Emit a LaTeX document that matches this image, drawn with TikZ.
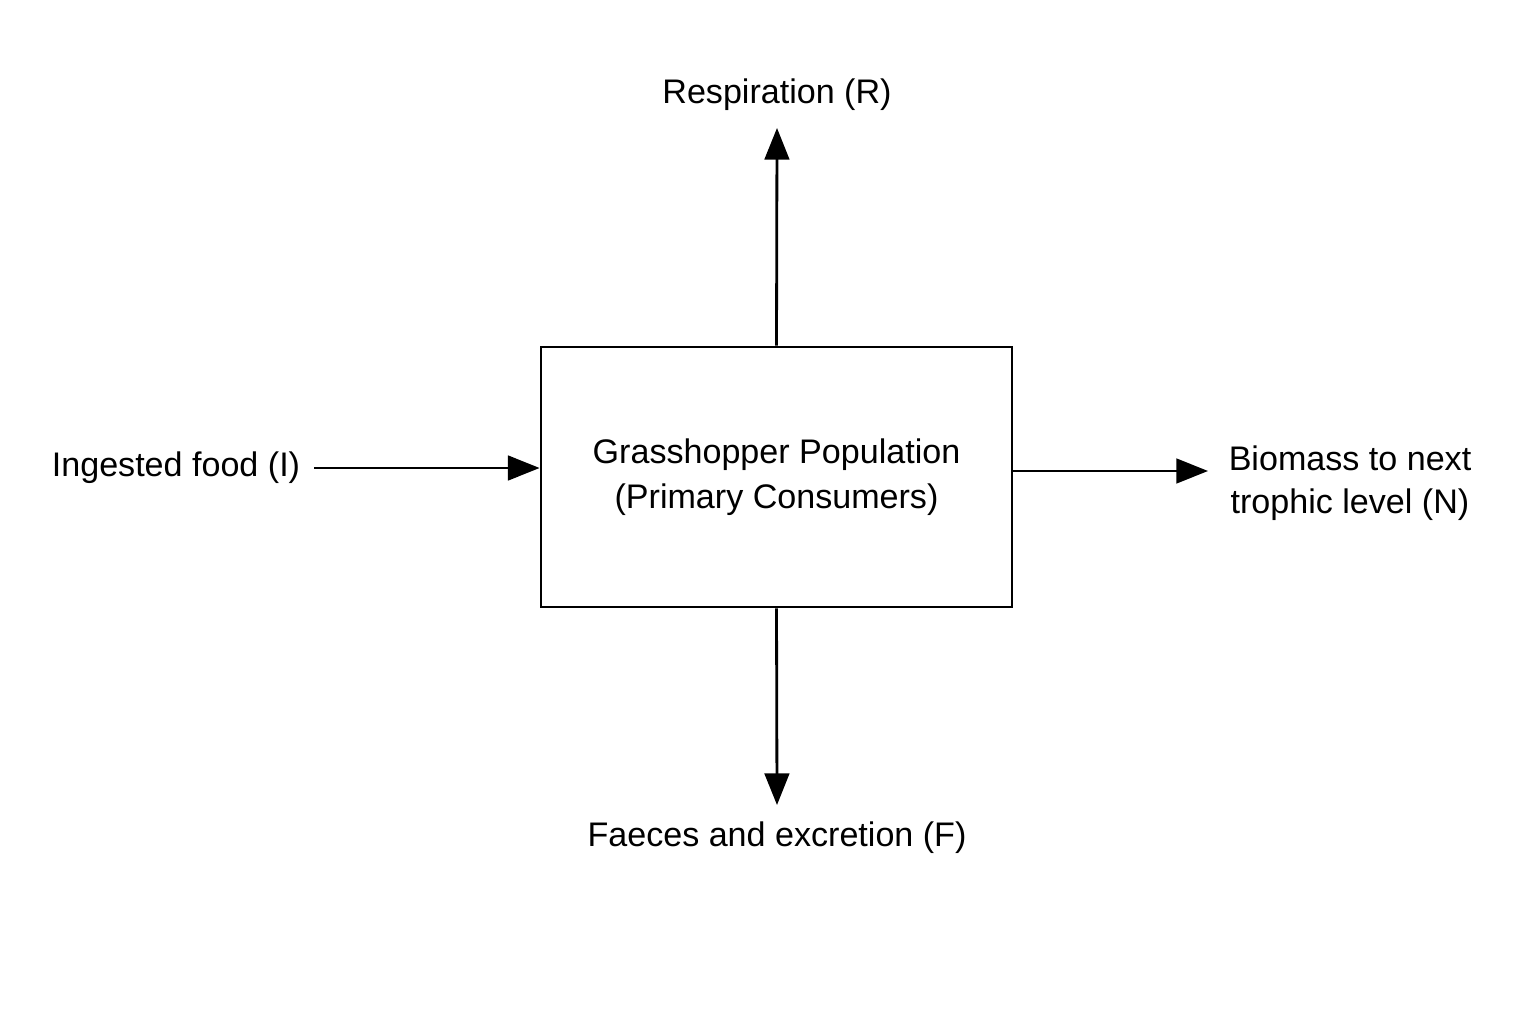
\documentclass[tikz,border=0pt]{standalone}
\usepackage{fontspec}
\setmainfont{Liberation Sans}
\usetikzlibrary{arrows.meta,positioning}

\begin{document}
\begin{tikzpicture}[
    pop/.style={
        rectangle,
        minimum width=4.71cm,
        minimum height=2.60cm,
        align=center,
        font=\fontsize{9.7}{12.8}\selectfont,
        draw,
        line width=0.8pt
    },
    label/.style={align=center, font=\fontsize{9.7}{12.2}\selectfont},
    arrow/.style={-{Triangle[length=9pt,width=7pt]},line width=0.8pt}
]
    \useasboundingbox (0,0) rectangle (15.36,10.24);

    % Population box
    \node[pop] (pop) at (7.765,5.47) {
        Grasshopper Population\\
        (Primary Consumers)
    };

    % Flow labels
    \node[label] (resp) at (7.77,9.29) {Respiration (R)};
    \node[label] (faec) at (7.77,1.86) {Faeces and excretion (F)};
    \node[label] (ing) at (1.76,5.56) {Ingested food (I)};
    \node[label] (bio) at (13.50,5.41) {Biomass to next\\trophic level (N)};

    % Arrow ends
    \coordinate (respTip) at (7.77,8.96);
    \coordinate (faecTip) at (7.77,2.19);
    \coordinate (ingStart) at (3.14,5.56);
    \coordinate (bioTip) at (12.08,5.53);

    % Arrows
    \draw[arrow] (pop.north) -- (respTip);
    \draw[arrow] (pop.south) -- (faecTip);
    \draw[arrow] (ingStart) -- (ingStart -| pop.west);
    \draw[arrow] (pop.east |- bioTip) -- (bioTip);
\end{tikzpicture}
\end{document}
